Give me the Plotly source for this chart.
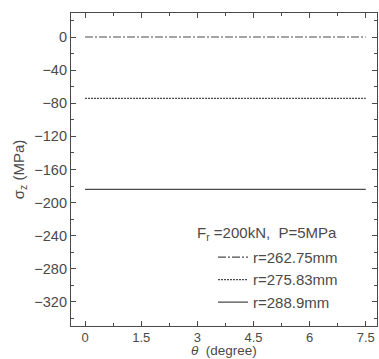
import plotly.graph_objects as go

theta = [0, 7.5]
series_names = ["r=262.75mm", "r=275.83mm", "r=288.9mm"]
series_values = [[0, 0], [-74, -74], [-184, -184]]
series_dash = ["8px,2px,2px,2px", "2px,1px", "solid"]
x_ticks = [0, 1.5, 3, 4.5, 6, 7.5]
x_tick_labels = ["0", "1.5", "3", "4.5", "6", "7.5"]
y_ticks = [0, -40, -80, -120, -160, -200, -240, -280, -320]
legend_header = "F<sub>r</sub> =200kN,  P=5MPa"
x_title = "<i>θ</i>  (degree)"
y_title = "σ<sub>z</sub> (MPa)"

col = "#4a4a4a"
fig = go.Figure()
for name, vals, dash in zip(series_names, series_values, series_dash):
    fig.add_trace(go.Scatter(x=theta, y=vals, mode="lines", name=name,
                             line=dict(color=col, width=1.2, dash=dash)))

axis_common = dict(showline=True, linecolor=col, linewidth=1.2, mirror="allticks",
                   ticks="inside", ticklen=5, tickcolor=col, showgrid=False, zeroline=False)
fig.update_xaxes(range=[-0.375, 7.8], tickvals=x_ticks, ticktext=x_tick_labels,
                 tickfont=dict(size=13, color=col), ticklabelstandoff=-1,
                 minor=dict(dtick=0.75, tick0=0, ticks="inside", ticklen=3, tickcolor=col),
                 **axis_common)
fig.update_yaxes(range=[-349, 29], tickvals=y_ticks,
                 tickfont=dict(size=14.5, color=col),
                 minor=dict(dtick=20, tick0=0, ticks="inside", ticklen=3, tickcolor=col),
                 title=dict(text=y_title, standoff=6, font=dict(size=15, color=col)),
                 **axis_common)
fig.add_annotation(text=x_title, xref="paper", yref="paper",
                   x=0.5, y=-0.105, xanchor="center", yanchor="bottom", showarrow=False,
                   borderpad=0, font=dict(size=13.5, color=col))
fig.add_annotation(text=legend_header, xref="paper", yref="paper",
                   x=0.405, y=0.297, xanchor="left", yanchor="middle", showarrow=False,
                   font=dict(size=15, color=col))
fig.update_layout(
    width=379, height=359,
    margin=dict(l=71, r=2, t=13, b=33),
    paper_bgcolor="white", plot_bgcolor="white",
    font=dict(family="Liberation Sans, Arial, sans-serif", color=col),
    legend=dict(x=0.464, y=0.272, xanchor="left", yanchor="top",
                bgcolor="rgba(0,0,0,0)", font=dict(size=15, color=col),
                tracegroupgap=0, itemwidth=30),
    showlegend=True,
)
fig.write_html("out.html")
